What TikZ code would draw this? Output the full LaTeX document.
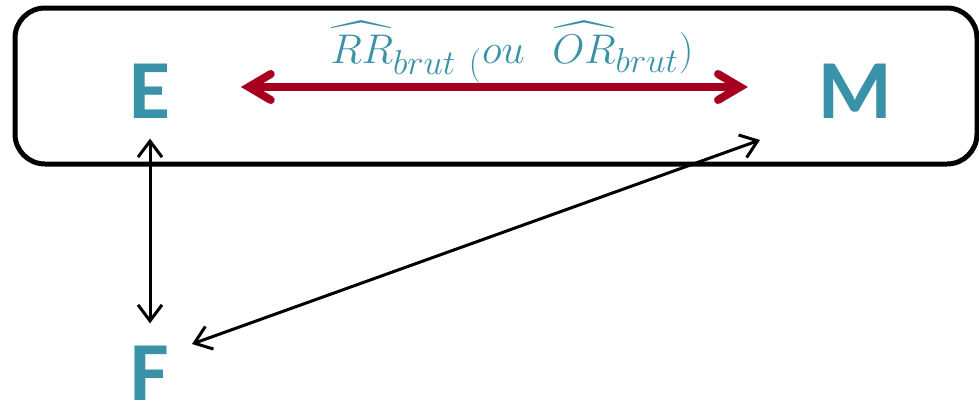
\documentclass[tikz,border=0pt]{standalone}
\usepackage{amsmath}
\usepackage{fontspec}
\newfontfamily\carlito{Carlito}
\usetikzlibrary{arrows.meta}
\definecolor{tealE}{RGB}{58,146,168}
\definecolor{redA}{RGB}{166,0,30}

\begin{document}
\begin{tikzpicture}[
    x=0.5pt, y=-0.5pt,
    letter/.style={text=tealE,font=\carlito\bfseries\fontsize{42}{42}\selectfont,inner sep=0pt},
    frame/.style={draw,line width=2.5pt,rounded corners=15pt},
    redarrow/.style={{Straight Barb[length=11pt,width=13pt,line cap=round]}-{Straight Barb[length=11pt,width=13pt,line cap=round]},line width=4pt,draw=redA,line cap=round},
    arrow/.style={{Straight Barb[length=8pt,width=12pt]}-{Straight Barb[length=8pt,width=12pt]},line width=1.5pt}
]
\useasboundingbox (0,0) rectangle (979,402);

\draw[frame] (15,8) rectangle (977,164);

\node[letter] (E) at (150,91) {E};
\node[letter] (M) at (855,91) {M};
\node[letter] (F) at (150,373) {F};
\coordinate (fm1) at (192,344);
\coordinate (fm2) at (760,140);

\draw[redarrow] ([xshift=35pt,yshift=2pt]E.east) -- ([xshift=-35pt,yshift=2pt]M.west);
\node[text=tealE,font=\fontsize{22.8}{23}\selectfont,anchor=base] (lbl) at (512,63)
    {$\widehat{RR}_{brut\ (}ou\ \ \widehat{OR}_{brut})$};

\draw[arrow] ([yshift=-10pt]E.south) -- ([yshift=11pt]F.north);
\draw[arrow] (fm1) -- (fm2);

\end{tikzpicture}
\end{document}
